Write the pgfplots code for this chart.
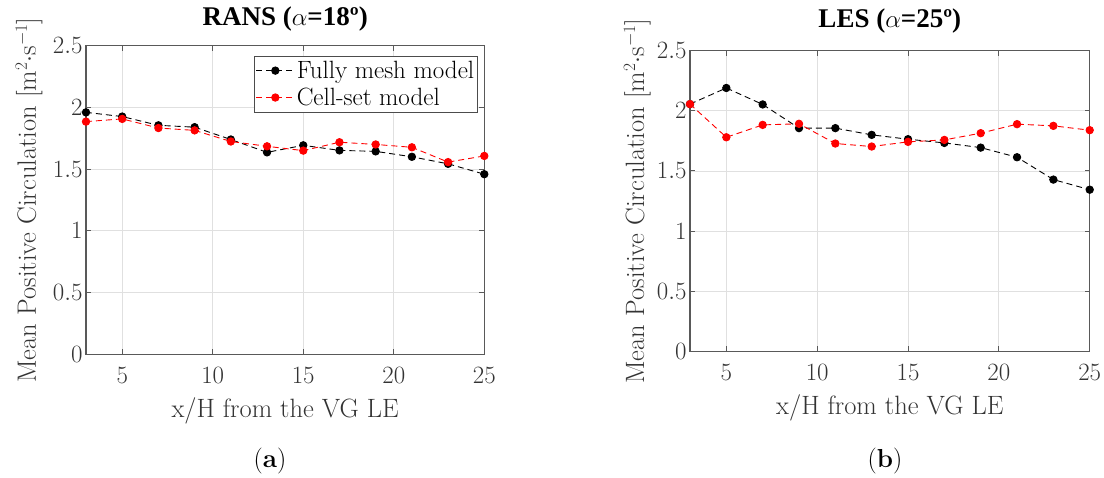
\documentclass[border=0pt]{standalone}
\usepackage{fontspec}
\usepackage{pgfplots}
\pgfplotsset{compat=1.18}
\newfontfamily\titlefont{Liberation Serif}
\pgfplotsset{
  mystyle/.style={
    scale only axis,
    xmin=3, xmax=25, ymin=0, ymax=2.5,
    xtick={5,10,15,20,25},
    ytick={0,0.5,1,1.5,2,2.5},
    grid=major,
    major grid style={black!12, line width=0.8pt},
    axis line style={black!65, line width=1.2pt},
    tick style={black!65, line width=1pt},
    tick align=inside,
    major tick length=5pt,
    tick label style={font=\fontsize{24}{28}\selectfont, text=black!80},
    label style={font=\fontsize{26.5}{30}\selectfont, text=black!80},
    title style={font=\fontsize{27}{31}\selectfont\bfseries\titlefont},
    xlabel={x/H from the VG LE},
    ylabel={Mean Positive Circulation [m$^{2}$$\cdot$s$^{-1}$]},
    xticklabel style={anchor=base, yshift=-29pt},
  },
  fm/.style={black, line width=0.9pt, dash pattern=on 6pt off 4pt, mark=*, mark size=3.7pt, mark options={solid, fill=black}},
  cs/.style={red, line width=0.9pt, dash pattern=on 6pt off 4pt, mark=*, mark size=3.7pt, mark options={solid, fill=red}},
}
\begin{document}
\begin{tikzpicture}[x=1pt,y=1pt]
\useasboundingbox (0,0) rectangle (1104,477);
\begin{axis}[mystyle,
  at={(86pt,122.7pt)}, anchor=south west,
  width=398.3pt, height=308.6pt,
  title={RANS ($\alpha$=18º)},
  title style={at={(axis description cs:0.5,1)}, anchor=base, yshift=14pt},
  x label style={at={(axis description cs:0.5,0)}, anchor=base, yshift=-63pt},
  y label style={at={(axis description cs:-0.1256,0.5)}, anchor=base},
  legend style={at={(0.9834,0.9676)}, anchor=north east, draw=black!70, line width=1pt,
    fill=white, cells={anchor=west, font=\fontsize{25}{28}\selectfont},
    row sep=4pt, inner xsep=1pt, inner ysep=3pt},
  legend image code/.code={\draw[mark repeat=2, mark phase=2] plot coordinates {(0pt,0pt) (19pt,0pt) (38pt,0pt)};},
]
\addplot[fm] coordinates {(3,1.96) (5,1.926) (7,1.855) (9,1.84) (11,1.74) (13,1.636) (15,1.693) (17,1.652) (19,1.644) (21,1.60) (23,1.543) (25,1.459)};
\addlegendentry{Fully mesh model}
\addplot[cs] coordinates {(3,1.885) (5,1.907) (7,1.833) (9,1.814) (11,1.724) (13,1.685) (15,1.65) (17,1.718) (19,1.70) (21,1.677) (23,1.557) (25,1.607)};
\addlegendentry{Cell-set model}
\end{axis}
\begin{axis}[mystyle,
  at={(690pt,125.7pt)}, anchor=south west,
  width=399.7pt, height=300.6pt,
  title={LES ($\alpha$=25º)},
  title style={at={(axis description cs:0.5,1)}, anchor=base, yshift=17pt},
  x label style={at={(axis description cs:0.5,0)}, anchor=base, yshift=-63pt},
  y label style={at={(axis description cs:-0.115,0.5)}, anchor=base},
]
\addplot[fm] coordinates {(3,2.056) (5,2.19) (7,2.053) (9,1.856) (11,1.856) (13,1.80) (15,1.764) (17,1.733) (19,1.694) (21,1.614) (23,1.428) (25,1.344)};
\addplot[cs] coordinates {(3,2.056) (5,1.78) (7,1.883) (9,1.892) (11,1.728) (13,1.703) (15,1.742) (17,1.758) (19,1.814) (21,1.889) (23,1.875) (25,1.839)};
\end{axis}
\node[font=\fontsize{26}{30}\selectfont] at (270,16) {(\textbf{a})};
\node[font=\fontsize{26}{30}\selectfont] at (885,16) {(\textbf{b})};
\end{tikzpicture}
\end{document}
